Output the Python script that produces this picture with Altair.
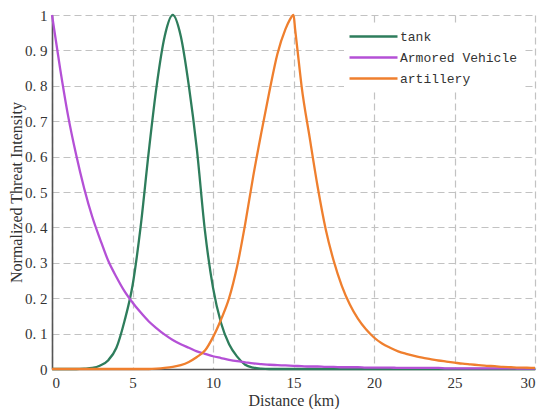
import altair as alt
import pandas as pd

# ---- data ----
dist = [0, 0.5, 1, 1.5, 2, 2.5, 3, 3.5, 4, 4.5, 5, 5.5, 6, 6.5, 7, 7.5, 8, 8.5, 9, 9.5,
        10, 10.5, 11, 11.5, 12, 12.5, 13, 13.5, 14, 14.5, 15, 15.5, 16, 16.5, 17, 17.5,
        18, 18.5, 19, 19.5, 20, 20.5, 21, 21.5, 22, 22.5, 23, 23.5, 24, 24.5, 25, 25.5,
        26, 26.5, 27, 27.5, 28, 28.5, 29, 29.5, 30]

tank = [0, 0, 0, 0, 0.001, 0.003, 0.01, 0.025, 0.06, 0.135, 0.235, 0.40, 0.61, 0.80,
        0.94, 1.0, 0.94, 0.80, 0.62, 0.39, 0.23, 0.13, 0.07, 0.035, 0.012, 0.004, 0.001,
        0, 0, 0, 0, 0, 0, 0, 0, 0, 0, 0, 0, 0, 0, 0, 0, 0, 0, 0, 0, 0, 0, 0, 0, 0, 0, 0,
        0, 0, 0, 0, 0, 0, 0]

armored = [1.0, 0.85, 0.715, 0.605, 0.51, 0.43, 0.365, 0.305, 0.26, 0.22, 0.188, 0.16,
           0.135, 0.115, 0.097, 0.082, 0.07, 0.06, 0.05, 0.043, 0.036, 0.031, 0.026,
           0.022, 0.019, 0.016, 0.014, 0.012, 0.011, 0.010, 0.009, 0.008, 0.007, 0.007,
           0.006, 0.006, 0.005, 0.005, 0.005, 0.004, 0.004, 0.004, 0.004, 0.003, 0.003,
           0.003, 0.003, 0.003, 0.003, 0.002, 0.002, 0.002, 0.002, 0.002, 0.002, 0.002,
           0.002, 0.002, 0.001, 0.001, 0.001]

art_x = [0, 1, 2, 3, 4, 5, 6, 6.5, 7, 7.5, 8, 8.5, 9, 9.5, 10, 10.5, 11, 11.5, 12, 12.5,
         13, 13.5, 14, 14.5, 14.75, 15, 15.1, 15.25, 15.5, 16, 16.5, 17, 17.5, 18, 18.5,
         19, 19.5, 20, 20.5, 21, 21.5, 22, 22.5, 23, 23.5, 24, 24.5, 25, 25.5, 26, 26.5,
         27, 27.5, 28, 28.5, 29, 29.5, 30]
artillery = [0, 0, 0, 0, 0, 0, 0, 0.001, 0.003, 0.006, 0.011, 0.02, 0.034, 0.052, 0.09,
             0.14, 0.20, 0.29, 0.41, 0.545, 0.667, 0.783, 0.89, 0.96, 0.985, 1.0, 0.96, 0.9,
             0.80, 0.655, 0.515, 0.395, 0.305, 0.235, 0.182, 0.142, 0.112, 0.089, 0.072,
             0.06, 0.05, 0.043, 0.037, 0.032, 0.028, 0.024, 0.021, 0.018, 0.015, 0.013,
             0.011, 0.009, 0.008, 0.006, 0.005, 0.004, 0.0035, 0.003]

series_names = ["tank", "Armored Vehicle", "artillery"]
series_colors = ["#2E7D5C", "#B450D6", "#EF7F2E"]

x_ticks = [0, 5, 10, 15, 20, 25, 30]
y_ticks = [0, 0.1, 0.2, 0.3, 0.4, 0.5, 0.6, 0.7, 0.8, 0.9, 1]

rows = []
for x, v in zip(dist, tank):
    rows.append({"Distance": x, "Intensity": v, "Target": "tank"})
for x, v in zip(dist, armored):
    rows.append({"Distance": x, "Intensity": v, "Target": "Armored Vehicle"})
for x, v in zip(art_x, artillery):
    rows.append({"Distance": x, "Intensity": v, "Target": "artillery"})
df = pd.DataFrame(rows)

serif = "Liberation Serif"

chart = alt.Chart(df).mark_line(strokeWidth=2.3, interpolate="monotone").encode(
    x=alt.X("Distance:Q",
            scale=alt.Scale(domain=[0, 30], nice=False, zero=False),
            axis=alt.Axis(values=x_ticks, title="Distance (km)", format="d",
                          labelFont=serif, labelFontSize=15, labelColor="#333",
                          labelPadding=6, ticks=False,
                          titleFont=serif, titleFontSize=16, titleFontWeight="normal",
                          titleColor="#333", titleBaseline="top", titleY=23,
                          domainColor="#555", domainWidth=1.6,
                          grid=True, gridDash=[7, 4], gridColor="#c2c2c2", gridWidth=1.2)),
    y=alt.Y("Intensity:Q",
            scale=alt.Scale(domain=[0, 1], nice=False),
            axis=alt.Axis(values=y_ticks, title="Normalized Threat Intensity",
                          labelExpr="datum.value == 0 ? '0' : (datum.value == 1 ? '1' : replace(format(datum.value, '.1f'), '.', '. '))",
                          labelFont=serif, labelFontSize=15, labelColor="#333",
                          labelPadding=5, ticks=False,
                          titleFont=serif, titleFontSize=16, titleFontWeight="normal",
                          titleColor="#333", titleX=-28,
                          domainColor="#555", domainWidth=1.6,
                          grid=True, gridDash=[7, 4], gridColor="#c2c2c2", gridWidth=1.2)),
    color=alt.Color("Target:N",
                    scale=alt.Scale(domain=series_names, range=series_colors),
                    sort=series_names,
                    legend=alt.Legend(title=None, orient="none", legendX=292, legendY=8,
                                      symbolType="M-1,0H5", symbolSize=256,
                                      symbolStrokeWidth=2.5, labelFont="Liberation Mono",
                                      labelFontSize=13, labelColor="#333", labelOffset=33,
                                      rowPadding=4, padding=4, fillColor="white",
                                      strokeColor="white")),
).properties(
    width=483, height=354,
    autosize=alt.AutoSizeParams(type="none"),
    padding={"left": 44, "top": 7, "right": 7, "bottom": 40},
).configure_view(strokeWidth=0)

chart.save("out.html", embed_options={"renderer": "svg", "actions": False})
